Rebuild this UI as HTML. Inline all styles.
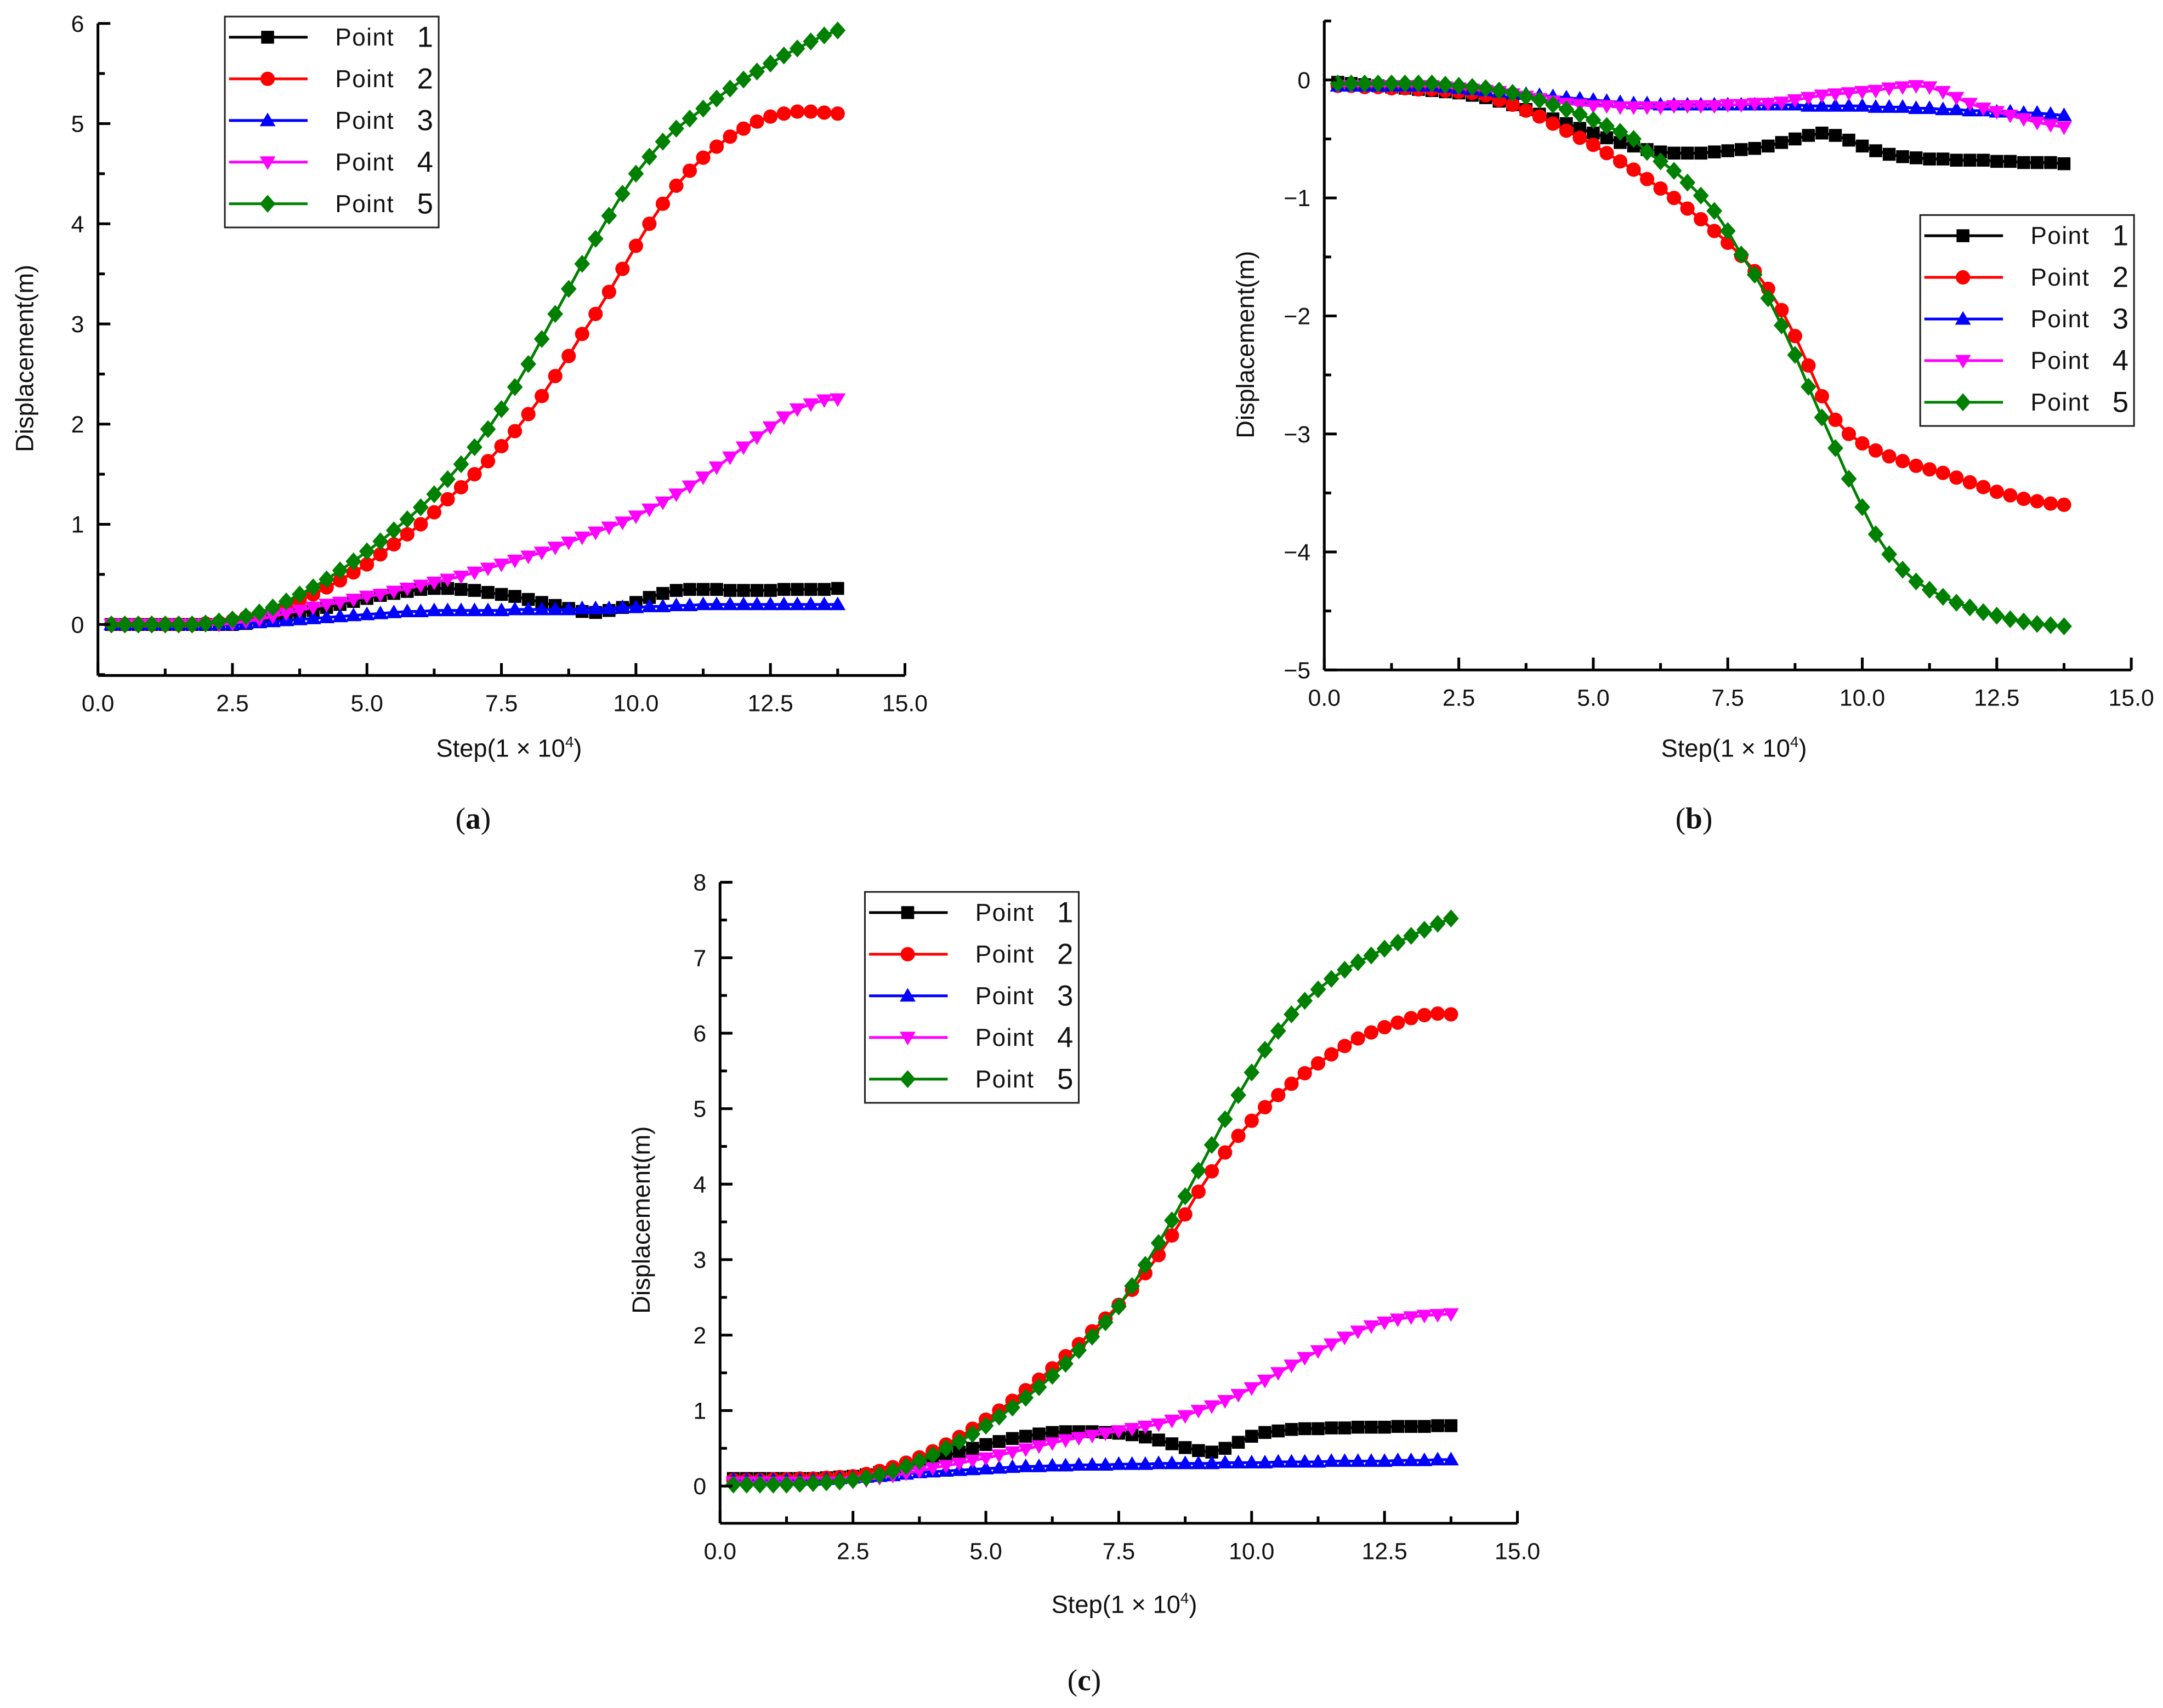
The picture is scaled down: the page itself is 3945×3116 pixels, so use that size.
<!DOCTYPE html>
<html><head><meta charset="utf-8"><style>
html,body{margin:0;padding:0;background:#fff;}
svg{display:block;font-family:"Liberation Sans",Arial,sans-serif;}
</style></head><body>
<svg id="chart" width="3945" height="3116" viewBox="0 0 1568 1239" preserveAspectRatio="none" xmlns="http://www.w3.org/2000/svg"></svg>
<script>
// ---- data (step in 1e4, displacement in m) ----
const steps = []; for (let i = 1; i <= 55; i++) steps.push(i * 0.25);
const seriesNames = ["Point 1","Point 2","Point 3","Point 4","Point 5"];
const xTicks = [0,2.5,5,7.5,10,12.5,15];
const xTickLabels = ["0.0","2.5","5.0","7.5","10.0","12.5","15.0"];

const aP1=[0,0,0,0,0,0,0,0,0,0,.01,.03,.05,.08,.11,.14,.17,.2,.23,.26,.29,.31,.33,.35,.36,.36,.35,.34,.32,.3,.28,.25,.22,.19,.16,.13,.12,.14,.17,.22,.27,.31,.34,.35,.35,.35,.34,.34,.34,.34,.35,.35,.35,.35,.36];
const aP2=[0,0,0,0,0,0,0,.01,.02,.04,.07,.1,.14,.19,.24,.3,.37,.44,.52,.6,.7,.8,.9,1.0,1.12,1.25,1.37,1.5,1.63,1.78,1.93,2.1,2.28,2.48,2.68,2.9,3.1,3.32,3.55,3.78,4.0,4.2,4.38,4.53,4.66,4.77,4.87,4.95,5.02,5.07,5.1,5.12,5.12,5.11,5.1];
const aP3=[0,0,0,0,0,0,0,0,0,0,.01,.02,.03,.04,.05,.06,.07,.08,.09,.1,.11,.12,.13,.13,.14,.14,.14,.14,.14,.14,.15,.15,.15,.15,.15,.16,.16,.16,.17,.17,.18,.18,.19,.19,.2,.2,.2,.2,.2,.2,.2,.2,.2,.2,.2];
const aP4=[0,0,0,0,0,0,0,0,0,.01,.03,.05,.08,.11,.14,.17,.2,.22,.25,.28,.3,.33,.36,.39,.42,.45,.48,.52,.56,.6,.64,.68,.72,.77,.82,.87,.92,.97,1.02,1.08,1.15,1.22,1.3,1.38,1.47,1.57,1.67,1.77,1.87,1.97,2.07,2.15,2.2,2.24,2.25];
const aP5=[0,0,0,0,0,0,0,.01,.03,.05,.08,.12,.17,.23,.3,.37,.45,.54,.63,.73,.83,.94,1.05,1.17,1.3,1.45,1.6,1.77,1.95,2.15,2.37,2.6,2.85,3.1,3.35,3.6,3.85,4.08,4.3,4.5,4.67,4.82,4.95,5.05,5.15,5.25,5.35,5.44,5.52,5.6,5.68,5.75,5.82,5.88,5.93];

const bP1=[-.02,-.03,-.04,-.05,-.06,-.07,-.08,-.09,-.1,-.11,-.13,-.15,-.18,-.21,-.25,-.29,-.33,-.37,-.41,-.45,-.49,-.53,-.56,-.59,-.61,-.62,-.62,-.62,-.61,-.6,-.59,-.58,-.56,-.53,-.5,-.47,-.45,-.47,-.51,-.56,-.6,-.63,-.65,-.66,-.67,-.67,-.68,-.68,-.68,-.69,-.69,-.7,-.7,-.7,-.71];
const bP2=[-.05,-.05,-.06,-.06,-.07,-.07,-.08,-.08,-.09,-.1,-.11,-.13,-.17,-.21,-.26,-.31,-.37,-.43,-.49,-.55,-.62,-.69,-.76,-.84,-.92,-1.0,-1.09,-1.18,-1.28,-1.38,-1.49,-1.62,-1.77,-1.95,-2.17,-2.42,-2.68,-2.88,-3.0,-3.08,-3.14,-3.19,-3.23,-3.27,-3.3,-3.33,-3.37,-3.41,-3.45,-3.49,-3.52,-3.55,-3.57,-3.59,-3.6];
const bP3=[-.05,-.05,-.05,-.05,-.05,-.05,-.05,-.05,-.06,-.07,-.08,-.09,-.1,-.11,-.12,-.13,-.14,-.15,-.16,-.17,-.18,-.19,-.2,-.2,-.21,-.21,-.21,-.21,-.21,-.21,-.21,-.21,-.21,-.21,-.21,-.22,-.22,-.22,-.22,-.22,-.23,-.23,-.23,-.24,-.24,-.25,-.25,-.26,-.26,-.27,-.27,-.28,-.28,-.29,-.3];
const bP4=[-.05,-.05,-.05,-.05,-.05,-.05,-.05,-.05,-.06,-.07,-.08,-.09,-.1,-.12,-.14,-.16,-.18,-.2,-.21,-.22,-.22,-.23,-.23,-.23,-.23,-.22,-.22,-.22,-.22,-.21,-.21,-.2,-.2,-.19,-.17,-.15,-.13,-.12,-.11,-.1,-.09,-.07,-.06,-.05,-.06,-.1,-.15,-.2,-.24,-.27,-.3,-.33,-.36,-.38,-.4];
const bP5=[-.03,-.03,-.03,-.03,-.03,-.03,-.03,-.03,-.04,-.05,-.06,-.07,-.09,-.11,-.14,-.17,-.21,-.25,-.29,-.34,-.39,-.44,-.5,-.61,-.69,-.77,-.87,-.98,-1.11,-1.28,-1.48,-1.65,-1.85,-2.08,-2.33,-2.6,-2.86,-3.12,-3.38,-3.62,-3.85,-4.02,-4.15,-4.25,-4.32,-4.38,-4.43,-4.47,-4.51,-4.54,-4.57,-4.59,-4.61,-4.62,-4.63];

const cP1=[.1,.1,.1,.1,.1,.1,.1,.11,.12,.13,.15,.18,.21,.25,.3,.35,.4,.45,.5,.55,.59,.63,.66,.69,.71,.72,.72,.72,.71,.7,.68,.65,.61,.56,.51,.47,.45,.5,.58,.66,.71,.73,.75,.76,.76,.77,.77,.78,.78,.78,.79,.79,.79,.8,.8];
const cP2=[.08,.08,.08,.09,.09,.1,.1,.11,.12,.13,.16,.2,.25,.31,.38,.46,.55,.65,.76,.88,1.0,1.13,1.27,1.41,1.56,1.72,1.88,2.05,2.22,2.4,2.6,2.82,3.06,3.32,3.6,3.9,4.17,4.42,4.64,4.84,5.02,5.18,5.33,5.47,5.6,5.72,5.83,5.93,6.01,6.08,6.14,6.2,6.24,6.26,6.25];
const cP3=[.08,.08,.08,.08,.08,.08,.08,.09,.1,.11,.12,.13,.14,.16,.18,.19,.2,.21,.22,.23,.24,.25,.26,.26,.27,.27,.28,.28,.28,.29,.29,.29,.3,.3,.3,.3,.3,.31,.31,.31,.31,.32,.32,.32,.32,.33,.33,.33,.33,.33,.34,.34,.34,.35,.35];
const cP4=[.05,.05,.05,.05,.05,.05,.05,.05,.05,.06,.08,.11,.14,.17,.2,.24,.27,.3,.34,.37,.41,.45,.49,.53,.57,.61,.64,.67,.7,.73,.76,.79,.82,.87,.93,1.0,1.06,1.13,1.21,1.3,1.4,1.5,1.6,1.7,1.79,1.88,1.97,2.05,2.12,2.17,2.21,2.24,2.26,2.27,2.28];
const cP5=[.02,.02,.02,.02,.02,.03,.04,.05,.06,.08,.11,.15,.2,.26,.33,.41,.5,.59,.69,.8,.92,1.04,1.17,1.31,1.46,1.62,1.8,1.98,2.17,2.38,2.65,2.93,3.22,3.52,3.84,4.18,4.52,4.86,5.18,5.48,5.78,6.03,6.25,6.43,6.58,6.72,6.84,6.94,7.03,7.12,7.2,7.29,7.37,7.45,7.52];

const aYTicks=[0,1,2,3,4,5,6];
const bYTicks=[0,-1,-2,-3,-4,-5];
const cYTicks=[0,1,2,3,4,5,6,7,8];

const NS="http://www.w3.org/2000/svg";
const svg=document.getElementById('chart');
const colors=["#000000","#ff0000","#0000ff","#ff00ff","#008000"];
const shapes=["square","circle","up","down","diamond"];

function mk(tag,attrs,parent){const e=document.createElementNS(NS,tag);for(const k in attrs)e.setAttribute(k,attrs[k]);(parent||svg).appendChild(e);return e;}
function marker(g,shape,x,y,c){
  const s=5.2;
  if(shape==="square") return mk('rect',{x:x-s*0.9,y:y-s*0.9,width:s*1.8,height:s*1.8,fill:c},g);
  if(shape==="circle") return mk('circle',{cx:x,cy:y,r:s,fill:c},g);
  if(shape==="up") return mk('polygon',{points:`${x},${y-s*1.1} ${x-s*1.1},${y+s*0.8} ${x+s*1.1},${y+s*0.8}`,fill:c},g);
  if(shape==="down") return mk('polygon',{points:`${x},${y+s*1.1} ${x-s*1.1},${y-s*0.8} ${x+s*1.1},${y-s*0.8}`,fill:c},g);
  return mk('polygon',{points:`${x},${y-s*1.25} ${x+s*1.1},${y} ${x},${y+s*1.25} ${x-s*1.1},${y}`,fill:c},g);
}
function txt(g,x,y,s,attrs){const t=mk('text',Object.assign({x:x,y:y,'font-size':17,fill:'#111'},attrs||{}),g);t.textContent=s;return t;}

function panel(cfg){
  const g=mk('g',{});
  
  
  const X=v=>cfg.x0+(cfg.x15-cfg.x0)*v/15;
  const Y=v=>cfg.yZero+(cfg.yRef-cfg.yZero)*v/cfg.refVal;
  cfg.series.forEach((vals,si)=>{
    const sg=mk('g',{},g);
    
    
    const pts=steps.map((s,i)=>X(s).toFixed(2)+','+Y(vals[i]).toFixed(2)).join(' ');
    mk('polyline',{points:pts,fill:'none',stroke:colors[si],'stroke-width':2},sg);
    steps.forEach((s,i)=>{const m=marker(sg,shapes[si],X(s),Y(vals[i]),colors[si]);
      
      });
  });
  const ax=mk('g',{stroke:'#000','stroke-width':2,fill:'none'},g);
  
  
  mk('line',{x1:cfg.x0,y1:cfg.yTop,x2:cfg.x0,y2:cfg.yBot},ax);
  mk('line',{x1:cfg.x0,y1:cfg.yBot,x2:cfg.x15,y2:cfg.yBot},ax);
  xTicks.forEach((t,i)=>{
    mk('line',{x1:X(t),y1:cfg.yBot,x2:X(t),y2:cfg.yBot-9},ax);
    if(i<xTicks.length-1) mk('line',{x1:X(t+1.25),y1:cfg.yBot,x2:X(t+1.25),y2:cfg.yBot-5},ax);
    const l=txt(g,X(t),cfg.yBot+26,xTickLabels[i],{'text-anchor':'middle'});
    
    
  });
  cfg.yTicks.forEach((t,i)=>{
    mk('line',{x1:cfg.x0,y1:Y(t),x2:cfg.x0+9,y2:Y(t)},ax);
    const l=txt(g,cfg.x0-10,Y(t)+6,String(t).replace('-','\u2212'),{'text-anchor':'end'});
    
    
  });
  cfg.minorY.forEach(t=>{ if(Y(t)>=cfg.yTop-1 && Y(t)<=cfg.yBot) mk('line',{x1:cfg.x0,y1:Y(t),x2:cfg.x0+5,y2:Y(t)},ax); });
  const xt=txt(g,cfg.xTitleX,cfg.xTitleY,'',{'text-anchor':'middle','font-size':18});
  
  
  xt.textContent='Step(1 \u00d7 10';
  const sup=mk('tspan',{'font-size':11,dy:-7},xt); sup.textContent='4';
  const cl=mk('tspan',{dy:7},xt); cl.textContent=')';
  const yt=txt(g,0,0,'Displacement(m)',{'text-anchor':'middle','font-size':18,transform:`translate(${cfg.yTitleX},${cfg.yTitleY}) rotate(-90)`});
  
  
  const cap=txt(g,cfg.capX,cfg.capY,'',{'text-anchor':'middle','font-size':22,'font-family':'"Liberation Serif",serif'});
  
  
  cap.textContent='(';
  const b=mk('tspan',{'font-weight':'bold'},cap); b.textContent=cfg.cap;
  const c2=mk('tspan',{},cap); c2.textContent=')';
  const lg=mk('g',{},g);
  
  
  const L=cfg.leg;
  mk('rect',{x:L.x,y:L.y,width:155,height:153,fill:'#fff',stroke:'#222','stroke-width':1.2},lg);
  seriesNames.forEach((n,i)=>{
    const ey=L.y+15+i*30.2;
    const e=mk('g',{},lg);
    
    
    mk('line',{x1:L.x+3,y1:ey,x2:L.x+60,y2:ey,stroke:colors[i],'stroke-width':2},e);
    marker(e,shapes[i],L.x+31,ey,colors[i]);
    txt(e,L.x+80,ey+6,'Point',{'font-size':17.5,'letter-spacing':'0.6'});
    txt(e,L.x+151,ey+7,String(i+1),{'font-size':21,'text-anchor':'end'});
  });
}
const halfA=[];for(let v=0.5;v<6;v+=1)halfA.push(v);
const halfB=[];for(let v=0.5;v>-5;v-=1)halfB.push(v);
const halfC=[];for(let v=-0.5;v<8;v+=1)halfC.push(v);
panel({name:'panel-a',series:[aP1,aP2,aP3,aP4,aP5],x0:71,x15:656,yZero:453,yRef:17,refVal:6,yTop:17,yBot:490,
  yTicks:aYTicks,minorY:halfA.concat([-0.5]),xTitleX:369,xTitleY:549,yTitleX:24,yTitleY:260,capX:343,capY:601,cap:'a',leg:{x:163,y:12}});
panel({name:'panel-b',series:[bP1,bP2,bP3,bP4,bP5],x0:960,x15:1545,yZero:58,yRef:486,refVal:-5,yTop:15,yBot:486,
  yTicks:bYTicks,minorY:halfB,xTitleX:1257,xTitleY:549,yTitleX:909,yTitleY:250,capX:1228,capY:601,cap:'b',leg:{x:1392,y:156}});
panel({name:'panel-c',series:[cP1,cP2,cP3,cP4,cP5],x0:522,x15:1100,yZero:1078,yRef:640,refVal:8,yTop:640,yBot:1105,
  yTicks:cYTicks,minorY:halfC,xTitleX:815,xTitleY:1170,yTitleX:471,yTitleY:885,capX:786,capY:1226,cap:'c',leg:{x:627,y:647}});
</script>
</body></html>
